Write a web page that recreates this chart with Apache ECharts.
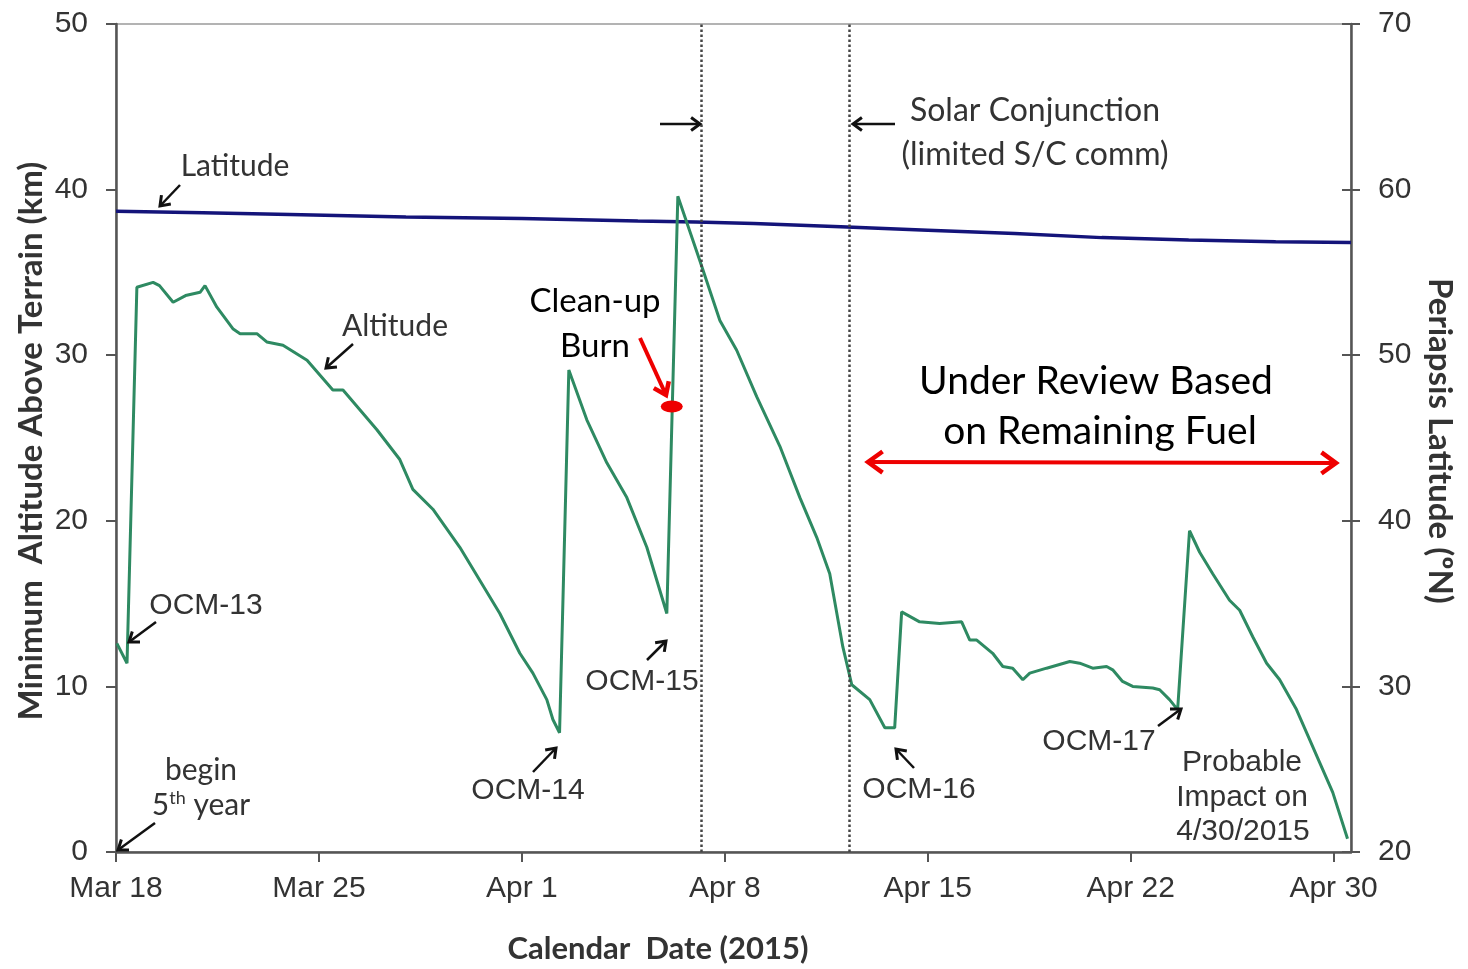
<!DOCTYPE html>
<html>
<head>
<meta charset="utf-8">
<script src="https://cdn.jsdelivr.net/npm/echarts@6/dist/echarts.min.js"></script>
<style>
html,body{margin:0;padding:0;background:#fff;}
#chart{width:1468px;height:969px;}
</style>
</head>
<body>
<div id="chart"></div>
<script>
// ---- Data (x = days since Mar 18, 2015) ----
const xTickValues = [0, 7, 14, 21, 28, 35, 42];
const xTickLabels = ['Mar 18', 'Mar 25', 'Apr 1', 'Apr 8', 'Apr 15', 'Apr 22', 'Apr 30'];

const altDays = [0.03, 0.38, 0.72, 1.28, 1.5, 1.97, 2.4, 2.9, 3.07, 3.48, 4.03, 4.28, 4.86, 5.2, 5.76, 6.59,
  7.48, 7.83, 9.0, 9.79, 10.24, 10.93, 11.86, 13.24, 13.93, 14.38, 14.86, 15.07, 15.3, 15.62, 16.24, 16.93,
  17.62, 18.31, 19.0, 19.38, 20.14, 20.83, 21.41, 22.1, 22.9, 23.59, 24.17, 24.62, 25.07, 25.38, 26.0,
  26.52, 26.86, 27.1, 27.72, 28.41, 29.17, 29.45, 29.69, 30.24, 30.59, 30.93, 31.28, 31.52, 32.1, 32.9,
  33.24, 33.69, 34.17, 34.38, 34.72, 35.07, 35.76, 36.0, 36.34, 36.62, 37.03, 37.38, 37.83, 38.41, 38.76,
  39.21, 39.69, 40.14, 40.72, 41.17, 41.52, 41.97, 42.48];
const altitudeKm = [12.6, 11.4, 34.1, 34.4, 34.2, 33.2, 33.6, 33.8, 34.2, 32.9, 31.6, 31.3, 31.3, 30.8, 30.6, 29.7,
  27.9, 27.9, 25.5, 23.7, 21.9, 20.7, 18.4, 14.4, 12.0, 10.8, 9.2, 8.0, 7.2, 29.1, 26.1, 23.5,
  21.4, 18.4, 14.4, 39.6, 35.7, 32.1, 30.3, 27.5, 24.5, 21.4, 19.0, 16.8, 12.4, 10.1, 9.2,
  7.5, 7.5, 14.5, 13.9, 13.8, 13.9, 12.8, 12.8, 12.0, 11.2, 11.1, 10.4, 10.8, 11.1, 11.5,
  11.4, 11.1, 11.2, 11.0, 10.3, 10.0, 9.9, 9.8, 9.2, 8.6, 19.4, 18.1, 16.8, 15.2, 14.6,
  13.0, 11.4, 10.4, 8.6, 6.8, 5.4, 3.6, 0.8];

const latDays = [0, 3, 6, 10, 14, 18, 20, 22, 25, 28, 31, 34, 37, 40, 42.6];
const latitudeDeg = [58.7, 58.6, 58.5, 58.35, 58.25, 58.1, 58.05, 57.95, 57.75, 57.55, 57.35, 57.1, 56.95, 56.85, 56.8];

const cleanupBurn = [19.17, 26.9];          // red marker
const conjunctionDays = [20.2, 25.3];        // dotted lines

const zip = (a, b) => a.map((v, i) => [v, b[i]]);

// ---- annotation helpers ----
function arrow(x1, y1, x2, y2, color, width, head, both) {
  const els = [{
    type: 'line', silent: true, z: 50,
    shape: { x1, y1, x2, y2 },
    style: { stroke: color, lineWidth: width }
  }];
  const addHead = (ax, ay, bx, by) => {
    const ang = Math.atan2(by - ay, bx - ax);
    const a1 = ang + Math.PI * 0.8, a2 = ang - Math.PI * 0.8;
    els.push({
      type: 'polyline', silent: true, z: 50,
      shape: { points: [[bx + head * Math.cos(a1), by + head * Math.sin(a1)], [bx, by], [bx + head * Math.cos(a2), by + head * Math.sin(a2)]] },
      style: { stroke: color, lineWidth: width + 0.5, fill: null, lineJoin: 'miter' }
    });
  };
  addHead(x1, y1, x2, y2);
  if (both) addHead(x2, y2, x1, y1);
  return els;
}
function txt(x, y, text, font, color, align, rotation) {
  return {
    type: 'text', silent: true, z: 60, x, y, rotation: rotation || 0,
    style: { text, font, fill: color, align: align || 'center', verticalAlign: 'middle' }
  };
}

const arial = '30px "Liberation Sans", Arial, sans-serif';
const calib = '30px Lato, "Open Sans", sans-serif';
const calibL = '32px Lato, "Open Sans", sans-serif';
const gray = '#333';

const graphics = [].concat(
  [txt(235, 166, 'Latitude', calib, gray)],
  arrow(180, 185, 160, 206, '#111', 2.5, 11),
  [txt(395, 326, 'Altitude', calib, gray)],
  arrow(353, 344, 326, 368, '#111', 2.5, 11),
  [txt(206, 606, 'OCM-13', arial, gray)],
  arrow(156, 622, 129, 642, '#111', 2.5, 11),
  [txt(201, 770, 'begin', calib, gray)],
  [{
    type: 'text', silent: true, z: 60, x: 201, y: 805,
    style: {
      text: '{n|5}{s|th}{n| year}', align: 'center', verticalAlign: 'middle',
      rich: {
        n: { font: calib, fill: gray },
        s: { font: '18px Lato, sans-serif', fill: gray, verticalAlign: 'top', padding: [0, 0, 14, 0] }
      }
    }
  }],
  arrow(155, 823, 118, 850, '#111', 2.5, 11),
  [txt(528, 791, 'OCM-14', arial, gray)],
  arrow(533, 772, 556, 748, '#111', 2.5, 11),
  [txt(642, 682, 'OCM-15', arial, gray)],
  arrow(647, 660, 666, 641, '#111', 2.5, 11),
  [txt(595, 301, 'Clean-up', '33px Lato, "Open Sans", sans-serif', '#000')],
  [txt(595, 346, 'Burn', '33px Lato, "Open Sans", sans-serif', '#000')],
  arrow(640, 338, 666, 395, '#ee0000', 4, 14),
  arrow(660, 124, 700, 124, '#111', 2.5, 11),
  arrow(895, 124, 853, 124, '#111', 2.5, 11),
  [txt(1035, 111, 'Solar Conjunction', calibL, gray)],
  [txt(1035, 155, '(limited S/C comm)', calibL, gray)],
  [txt(1096, 381, 'Under Review Based', '39px Lato, "Open Sans", sans-serif', '#000')],
  [txt(1100, 431, 'on Remaining Fuel', '39px Lato, "Open Sans", sans-serif', '#000')],
  arrow(868, 462, 1336, 463, '#ee0000', 4, 18, true),
  [txt(919, 790, 'OCM-16', arial, gray)],
  arrow(914, 768, 896, 749, '#111', 2.5, 11),
  [txt(1099, 742, 'OCM-17', arial, gray)],
  arrow(1158, 726, 1181, 709, '#111', 2.5, 11),
  [txt(1242, 763, 'Probable', arial, gray)],
  [txt(1242, 798, 'Impact on', arial, gray)],
  [txt(1243, 832, '4/30/2015', arial, gray)],
  // axis titles
  [txt(658, 949, 'Calendar  Date (2015)', 'bold 31px Lato, "Open Sans", sans-serif', gray)],
  [txt(31, 441, 'Minimum  Altitude Above Terrain (km)', 'bold 33px Lato, "Open Sans", sans-serif', gray, 'center', Math.PI / 2)],
  [txt(1440, 441, 'Periapsis Latitude (ºN)', 'bold 33px Lato, "Open Sans", sans-serif', gray, 'center', -Math.PI / 2)]
);

const chart = echarts.init(document.getElementById('chart'), null, { renderer: 'canvas' });
const axisColor = '#555';
const tickFont = { color: '#333', fontFamily: '"Liberation Sans", Arial, sans-serif', fontSize: 30 };
chart.setOption({
  backgroundColor: '#fff',
  animation: false,
  grid: { left: 116, right: 117, top: 24, bottom: 117, show: true, borderColor: '#9a9a9a', borderWidth: 1.5, backgroundColor: '#fff' },
  xAxis: {
    type: 'value', min: 0, max: 42.6,
    axisLine: { show: true, lineStyle: { color: axisColor, width: 2.5 } },
    axisTick: { show: true, length: 10, lineStyle: { color: axisColor, width: 2 }, customValues: xTickValues },
    axisLabel: Object.assign({
      customValues: xTickValues, margin: 22,
      formatter: v => xTickLabels[xTickValues.indexOf(Math.round(v))] || ''
    }, tickFont),
    splitLine: { show: false }
  },
  yAxis: [{
    type: 'value', min: 0, max: 50, interval: 10,
    axisLine: { show: true, lineStyle: { color: axisColor, width: 2.5 } },
    axisTick: { show: true, length: 10, lineStyle: { color: axisColor, width: 2 } },
    axisLabel: Object.assign({ margin: 28 }, tickFont),
    splitLine: { show: false }
  }, {
    type: 'value', min: 20, max: 70, interval: 10, position: 'right',
    axisLine: { show: true, lineStyle: { color: axisColor, width: 2.5 } },
    axisTick: { show: true, length: 9, lineStyle: { color: axisColor, width: 2 } },
    axisLabel: Object.assign({ margin: 27 }, tickFont),
    splitLine: { show: false }
  }, {
    type: 'value', min: 20, max: 70, interval: 10, position: 'right', offset: 0,
    axisLine: { show: false },
    axisTick: { show: true, inside: true, length: 9, lineStyle: { color: axisColor, width: 2 } },
    axisLabel: { show: false },
    splitLine: { show: false }
  }],
  series: [{
    name: 'Latitude', type: 'line', yAxisIndex: 1, data: zip(latDays, latitudeDeg),
    showSymbol: false, smooth: false, lineStyle: { color: '#14147a', width: 3.5 }, z: 3
  }, {
    name: 'Altitude', type: 'line', yAxisIndex: 0, data: zip(altDays, altitudeKm),
    showSymbol: false, lineStyle: { color: '#2e8a62', width: 3 }, z: 4,
    markLine: {
      silent: true, symbol: ['none', 'none'], label: { show: false },
      lineStyle: { color: '#444', type: 'dotted', width: 2.5 },
      data: conjunctionDays.map(d => ({ xAxis: d }))
    },
    markPoint: {
      silent: true, symbol: 'circle', symbolSize: [22, 12], label: { show: false },
      itemStyle: { color: '#ee0000' },
      data: [{ coord: cleanupBurn }]
    }
  }],
  graphic: graphics
});
</script>
</body>
</html>
